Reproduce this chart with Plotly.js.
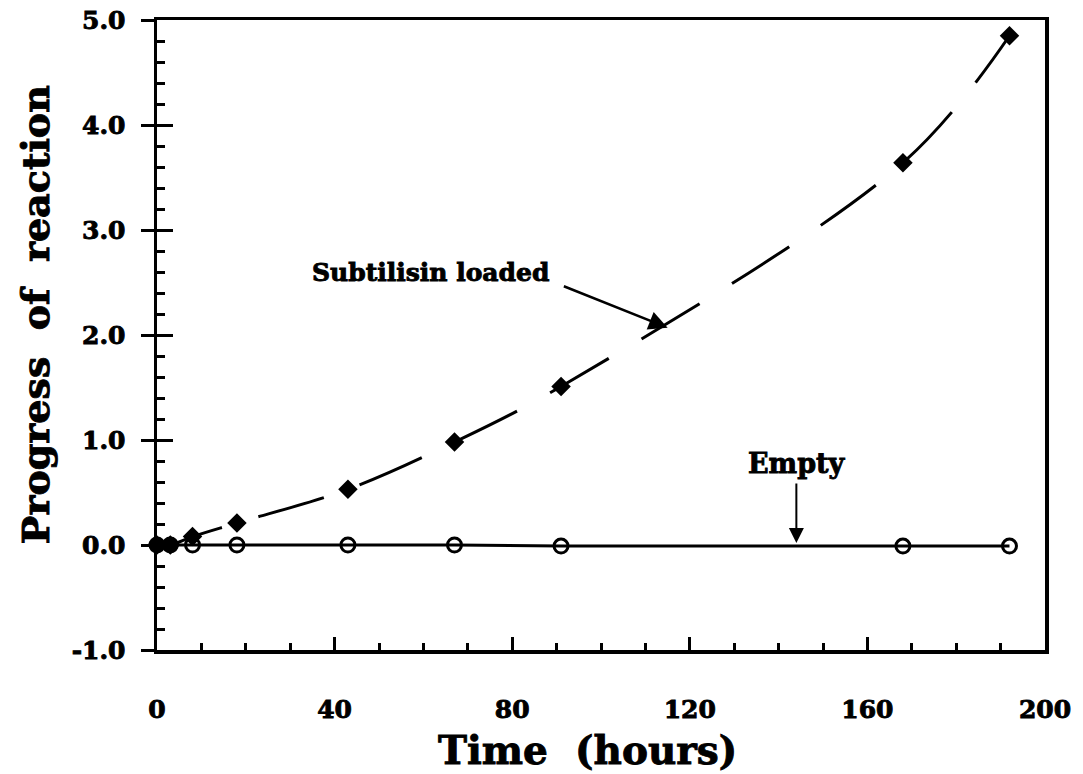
<!DOCTYPE html>
<html>
<head>
<meta charset="utf-8">
<script src="https://cdn.plot.ly/plotly-3.0.1.min.js"></script>
<style>
html,body{margin:0;padding:0;background:#fff;}
#chart{width:1083px;height:774px;}
#chart text{stroke:#000;stroke-width:0.9px;paint-order:stroke;}
</style>
</head>
<body>
<div id="chart"></div>
<script>
// Data
const loadedTime = [0, 3, 8, 18, 43, 67, 91, 168, 192];
const loadedProgress = [0.0, 0.0, 0.08, 0.21, 0.53, 0.98, 1.51, 3.64, 4.85];
const emptyTime = [0, 3, 8, 18, 43, 67, 91, 168, 192];
const emptyProgress = [0.0, 0.0, 0.0, 0.0, 0.0, 0.0, -0.01, -0.01, -0.01];
const xTickVals = [0, 40, 80, 120, 160, 200];
const xTickText = ['0', '40', '80', '120', '160', '200'];
const yTickVals = [-1, 0, 1, 2, 3, 4, 5];
const yTickText = ['-1.0', '0.0', '1.0', '2.0', '3.0', '4.0', '5.0'];
const seriesNames = ['Subtilisin loaded', 'Empty'];
const xTitle = 'Time  (hours)';
const yTitle = 'Progress  of  reaction';

const FONT = 'DejaVu Serif, Liberation Serif, serif';

const traces = [
  {
    x: emptyTime, y: emptyProgress, name: seriesNames[1], type: 'scatter', mode: 'lines+markers',
    line: {color: '#000', width: 3},
    marker: {symbol: 'circle-open', size: 14, color: '#000', line: {width: 3, color: '#000'}},
    cliponaxis: false
  },
  {
    x: loadedTime, y: loadedProgress, name: seriesNames[0], type: 'scatter', mode: 'lines+markers',
    line: {color: '#000', width: 3, dash: '68px,38px', shape: 'spline', smoothing: 1},
    marker: {symbol: 'diamond', size: 15, color: '#000'},
    cliponaxis: false
  },
  // invisible trace so the overlay axis (outer half of the crossing major ticks) is drawn
  {x: [0], y: [0], yaxis: 'y2', type: 'scatter', mode: 'markers', marker: {opacity: 0}, hoverinfo: 'skip', showlegend: false}
];

const layout = {
  width: 1083, height: 774,
  margin: {l: 157, r: 38, t: 20, b: 124},
  paper_bgcolor: '#fff', plot_bgcolor: 'rgba(0,0,0,0)',
  showlegend: false,
  font: {family: FONT, color: '#000', size: 24, weight: 'bold'},
  xaxis: {
    range: [0, 200], autorange: false, tickvals: xTickVals, ticktext: xTickText,
    ticks: 'inside', ticklen: 13, tickwidth: 3, tickcolor: '#000',
    minor: {dtick: 10, ticks: 'inside', ticklen: 7, tickwidth: 3, tickcolor: '#000'},
    showline: true, linewidth: 3.5, linecolor: '#000', mirror: true,
    showgrid: false, zeroline: false,
    ticklabelstandoff: 34,
    tickfont: {family: FONT, size: 25, weight: 'bold', color: '#000'}
  },
  yaxis: {
    range: [-1, 5], autorange: false, tickvals: yTickVals, ticktext: yTickText,
    ticks: 'inside', ticklen: 16, tickwidth: 3, tickcolor: '#000',
    minor: {dtick: 0.2, ticks: 'inside', ticklen: 8, tickwidth: 3, tickcolor: '#000'},
    showline: true, linewidth: 3.5, linecolor: '#000', mirror: true,
    showgrid: false, zeroline: false,
    ticklabelstandoff: 23,
    tickfont: {family: FONT, size: 25, weight: 'bold', color: '#000'}
  },
  yaxis2: {
    overlaying: 'y', anchor: 'x', side: 'left', range: [-1, 5], autorange: false, tickvals: yTickVals,
    ticks: 'outside', ticklen: 15, tickwidth: 3, tickcolor: '#000',
    showticklabels: false, showline: false, showgrid: false, zeroline: false
  },
  annotations: [
    {x: 0.485, y: -0.159, xref: 'paper', yref: 'paper', xanchor: 'center', yanchor: 'middle', text: xTitle, showarrow: false,
     font: {family: FONT, size: 39, weight: 'bold', color: '#000'}},
    {x: -0.137, y: 0.532, xref: 'paper', yref: 'paper', xanchor: 'center', yanchor: 'middle', textangle: -90,
     text: yTitle, showarrow: false, font: {family: FONT, size: 38, weight: 'bold', color: '#000'}},
    {x: 61.5, y: 2.6, xref: 'x', yref: 'y', text: 'Subtilisin loaded', showarrow: false,
     font: {family: FONT, size: 25, weight: 'bold', color: '#000'}},
    {x: 115, y: 2.07, ax: 91.3, ay: 2.47, xref: 'x', yref: 'y', axref: 'x', ayref: 'y', text: '',
     showarrow: true, arrowhead: 2, arrowsize: 1.5, arrowwidth: 2.5, arrowcolor: '#000'},
    {x: 144, y: 0.78, xref: 'x', yref: 'y', text: 'Empty', showarrow: false,
     font: {family: FONT, size: 27, weight: 'bold', color: '#000'}},
    {x: 144, y: 0.02, ax: 144, ay: 0.6, xref: 'x', yref: 'y', axref: 'x', ayref: 'y', text: '',
     showarrow: true, arrowhead: 2, arrowsize: 1.5, arrowwidth: 2, arrowcolor: '#000'}
  ]
};

Plotly.newPlot('chart', traces, layout, {staticPlot: true, displayModeBar: false});
</script>
</body>
</html>
